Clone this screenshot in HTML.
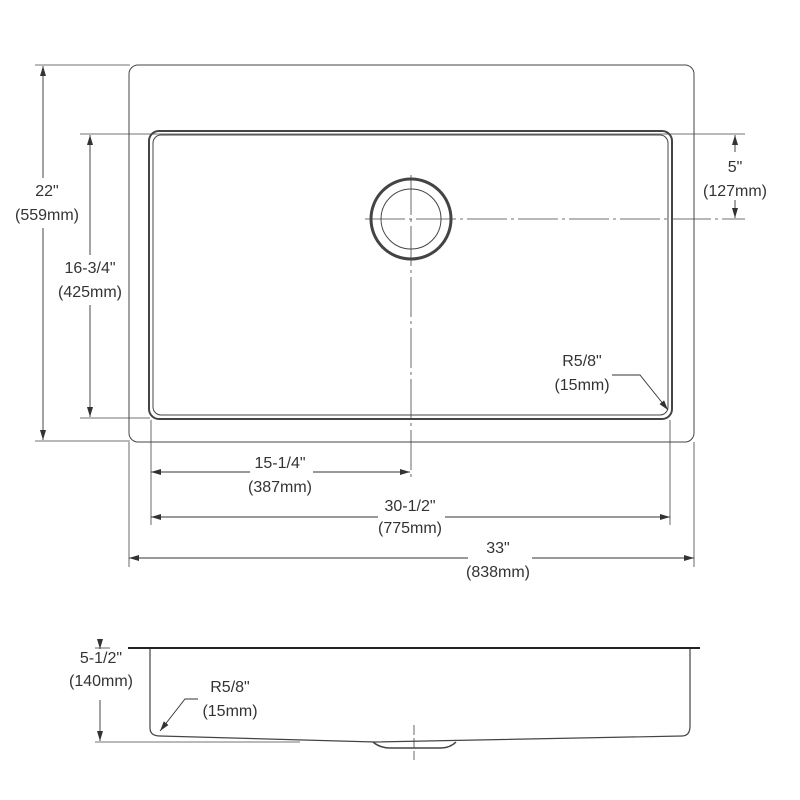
<!DOCTYPE html>
<html><head><meta charset="utf-8"><style>html,body{margin:0;padding:0;background:#fff}svg{display:block}text{font-family:"Liberation Sans",sans-serif;font-size:16px;fill:#333;text-anchor:middle}</style></head><body>
<svg width="800" height="800" viewBox="0 0 800 800" xmlns="http://www.w3.org/2000/svg">
<defs><marker id="a" viewBox="0 0 10 6" refX="10" refY="3" markerWidth="10" markerHeight="6" orient="auto-start-reverse" markerUnits="userSpaceOnUse"><path d="M0,0L10,3L0,6z" fill="#333"/></marker></defs>
<g fill="none" stroke="#444" stroke-width="1">
<rect x="129" y="65" width="565" height="377" rx="9"/>
<rect x="149" y="131" width="523" height="288" rx="10" stroke-width="2"/>
<rect x="153" y="135" width="515" height="280" rx="8"/>
<circle cx="411" cy="219" r="40" stroke-width="3"/>
<circle cx="411" cy="219" r="30"/>
<g stroke-dasharray="40,4,3,4" stroke-width="0.8"><line x1="411" y1="175" x2="411" y2="480"/><line x1="365" y1="219" x2="745" y2="219"/></g>
<g stroke-width="0.8">
<line x1="35" y1="65" x2="130" y2="65"/><line x1="35" y1="441" x2="130" y2="441"/>
<line x1="80" y1="134" x2="745" y2="134"/><line x1="80" y1="418" x2="150" y2="418"/>
<line x1="151" y1="420" x2="151" y2="525"/><line x1="670" y1="420" x2="670" y2="525"/>
<line x1="129" y1="442" x2="129" y2="567"/><line x1="694" y1="442" x2="694" y2="567"/>
</g>
<g stroke="#333" stroke-width="0.9">
<line x1="43" y1="66" x2="43" y2="178" marker-start="url(#a)"/><line x1="43" y1="228" x2="43" y2="440" marker-end="url(#a)"/>
<line x1="90" y1="135" x2="90" y2="255" marker-start="url(#a)"/><line x1="90" y1="305" x2="90" y2="417" marker-end="url(#a)"/>
<line x1="735" y1="135" x2="735" y2="152" marker-start="url(#a)"/><line x1="735" y1="200" x2="735" y2="218" marker-end="url(#a)"/>
<line x1="151" y1="472" x2="250" y2="472" marker-start="url(#a)"/><line x1="313" y1="472" x2="410" y2="472" marker-end="url(#a)"/>
<line x1="151" y1="517" x2="378" y2="517" marker-start="url(#a)"/><line x1="445" y1="517" x2="670" y2="517" marker-end="url(#a)"/>
<line x1="129" y1="558" x2="468" y2="558" marker-start="url(#a)"/><line x1="532" y1="558" x2="694" y2="558" marker-end="url(#a)"/>
<polyline points="612,375 640,375 668,410" marker-end="url(#a)"/>
</g>
<line x1="128" y1="648" x2="700" y2="648" stroke="#222" stroke-width="2"/>
<path d="M150,649 L150,728 Q150,736 160,736 L375,742 L682,736 Q690,736 690,726 L690,649" stroke-width="1.2"/>
<path d="M373,742 Q380,748 390,748 L440,748 Q450,748 456,742" stroke-width="1.5"/>
<line x1="414" y1="725" x2="414" y2="760" stroke-dasharray="10,3" stroke-width="0.8"/>
<line x1="95" y1="742" x2="300" y2="742" stroke-width="0.8"/>
<line x1="95" y1="648" x2="110" y2="648" stroke-width="0.8"/>
<g stroke="#333" stroke-width="0.9">
<line x1="100" y1="649" x2="100" y2="644" marker-start="url(#a)"/>
<line x1="100" y1="700" x2="100" y2="741" marker-end="url(#a)"/>
<polyline points="198,699 185,699 160,731" marker-end="url(#a)"/>
</g>
</g>
<text x="47" y="196">22"</text><text x="47" y="220">(559mm)</text>
<text x="90" y="273">16-3/4"</text><text x="90" y="297">(425mm)</text>
<text x="735" y="172">5"</text><text x="735" y="196">(127mm)</text>
<text x="582" y="366">R5/8"</text><text x="582" y="390">(15mm)</text>
<text x="280" y="468">15-1/4"</text><text x="280" y="492">(387mm)</text>
<text x="410" y="511">30-1/2"</text><text x="410" y="533">(775mm)</text>
<text x="498" y="553">33"</text><text x="498" y="577">(838mm)</text>
<text x="101" y="663">5-1/2"</text><text x="101" y="686">(140mm)</text>
<text x="230" y="692">R5/8"</text><text x="230" y="716">(15mm)</text>
</svg>
</body></html>
